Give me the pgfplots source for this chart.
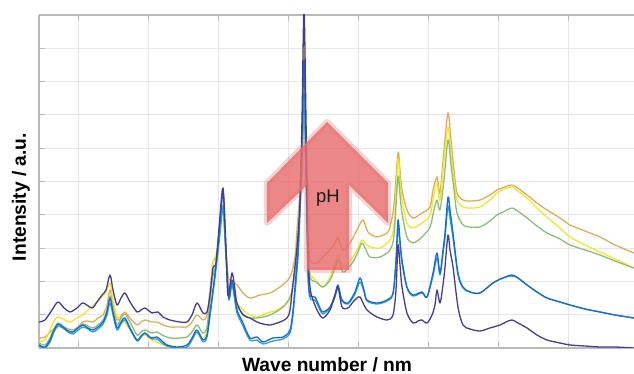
\documentclass[border=0pt]{standalone}
\usepackage{fontspec}
\setmainfont{Liberation Sans}
\usepackage{pgfplots}
\pgfplotsset{compat=1.18}
\definecolor{cPurple}{RGB}{70,62,140}
\definecolor{cBlue}{RGB}{30,105,205}
\definecolor{cCyan}{RGB}{35,165,215}
\definecolor{cGreen}{RGB}{140,190,120}
\definecolor{cYellow}{RGB}{240,232,40}
\definecolor{cOrange}{RGB}{225,172,90}
\definecolor{cArrow}{RGB}{232,108,108}
\definecolor{cAxis}{RGB}{185,185,185}
\definecolor{cGrid}{RGB}{232,232,232}
\begin{document}
\begin{tikzpicture}
\begin{axis}[
 at={(0,0)}, anchor=south west,
 scale only axis, width=297.5pt, height=166.5pt,
 xmin=39, xmax=634, ymin=0, ymax=333,
 axis x line*=box, axis y line*=left,
 xtick={79,149,219,289,359,429,499,569},
 ytick={33.3,66.6,99.9,133.2,166.5,199.8,233.1,266.4,299.7},
 xticklabels={}, yticklabels={},
 grid=major, major grid style={cGrid, line width=0.5pt},
 axis line style={cAxis, line width=0.6pt},
 major tick style={cAxis, line width=0.5pt},
 major tick length=3pt,
 every axis plot/.append style={line width=0.65pt, line join=round, smooth, tension=0.5},
]
\addplot[cOrange] coordinates {(39,10)(45,11)(50,16)(54,19)(58,22)(63,20)(68,17)(73,16)(78,21)(83,26)(88,27)(93,26)(98,30)(103,33)(107,43)(110,58)(113,43)(117,28)(121,32)(125,36)(130,30)(137,23)(141,26)(145,28)(152,26)(157,26)(163,23)(170,21)(180,21)(187,21)(192,26)(197,33)(203,28)(207,33)(210,58)(213,86)(216,90)(219,113)(223,143)(225,113)(228,73)(230,68)(237,63)(243,55)(250,50)(260,53)(270,55)(280,61)(290,71)(295,91)(297,118)(300,158)(302,208)(304,268)(306,198)(308,118)(310,88)(317,85)(323,91)(330,98)(335,105)(338,110)(343,98)(350,105)(357,118)(363,128)(368,116)(377,111)(387,115)(390,121)(394,143)(398,195)(400,178)(402,158)(407,138)(413,130)(422,135)(430,141)(433,158)(437,171)(440,155)(444,198)(448,235)(451,208)(454,178)(457,155)(463,148)(470,147)(480,148)(490,153)(497,158)(505,161)(512,163)(519,159)(527,153)(537,145)(547,138)(560,130)(570,123)(585,117)(600,111)(615,103)(634,95)};
\addplot[cYellow] coordinates {(39,6)(45,8)(50,18)(54,27)(58,31)(63,29)(70,26)(77,30)(83,33)(90,40)(97,46)(102,51)(106,56)(110,65)(113,48)(117,31)(121,30)(125,26)(130,18)(137,8)(141,11)(145,13)(152,8)(163,3)(170,1)(177,0)(187,1)(192,8)(197,16)(203,10)(207,18)(210,48)(213,85)(216,93)(219,113)(223,143)(225,113)(228,68)(232,63)(237,45)(247,35)(257,31)(267,35)(277,38)(287,45)(292,55)(297,95)(300,148)(302,208)(304,318)(306,198)(308,98)(310,75)(316,68)(323,61)(330,71)(335,86)(338,93)(343,81)(348,85)(353,91)(358,100)(362,108)(366,104)(370,101)(380,100)(390,108)(394,123)(398,188)(400,168)(402,148)(407,125)(413,120)(422,125)(430,133)(434,153)(437,165)(440,148)(444,188)(448,221)(451,193)(454,168)(457,148)(463,141)(470,140)(480,141)(490,148)(497,155)(505,159)(512,161)(519,156)(527,150)(537,140)(547,131)(560,120)(570,111)(585,103)(600,96)(615,89)(634,80)};
\addplot[cGreen] coordinates {(39,5)(45,3)(50,10)(54,19)(58,25)(63,22)(68,19)(73,18)(78,21)(83,24)(88,22)(93,20)(98,23)(103,28)(107,38)(110,52)(113,38)(117,23)(121,30)(125,34)(130,26)(137,13)(141,16)(145,18)(152,15)(157,16)(162,13)(170,10)(180,10)(187,11)(192,16)(197,23)(203,15)(207,21)(210,48)(213,73)(216,83)(219,108)(223,143)(225,108)(228,63)(232,65)(235,48)(237,41)(247,31)(257,30)(270,33)(283,41)(290,51)(294,68)(297,91)(300,138)(302,178)(304,238)(306,168)(308,98)(310,71)(316,66)(323,61)(330,68)(335,80)(338,88)(343,76)(348,80)(353,86)(358,96)(362,105)(366,98)(370,91)(380,91)(390,98)(394,113)(398,171)(400,153)(402,135)(407,111)(413,105)(422,111)(430,121)(434,138)(437,148)(440,138)(444,168)(448,208)(451,183)(454,158)(457,135)(463,123)(470,121)(480,121)(490,127)(497,133)(505,137)(512,140)(519,136)(527,130)(537,122)(547,115)(560,109)(570,103)(585,98)(600,93)(615,87)(634,80)};
\addplot[cCyan] coordinates {(39,2)(45,0)(50,6)(54,16)(58,22)(63,20)(68,16)(73,14)(78,18)(83,21)(88,19)(93,16)(98,19)(103,24)(107,33)(110,45)(113,33)(117,18)(121,24)(125,28)(130,19)(137,7)(141,11)(145,15)(149,12)(152,9)(157,9)(162,5)(167,2)(177,0)(187,1)(192,8)(197,16)(203,6)(207,11)(210,32)(213,55)(215,70)(219,105)(223,140)(225,110)(227,75)(229,48)(232,63)(235,47)(237,35)(243,22)(250,8)(257,8)(263,4)(273,7)(283,9)(290,15)(293,33)(295,55)(298,90)(300,135)(302,190)(304,255)(306,180)(308,75)(310,50)(315,48)(320,38)(323,34)(330,40)(335,51)(338,60)(342,47)(348,44)(355,54)(360,66)(364,56)(367,47)(377,44)(387,47)(393,54)(396,85)(398,120)(400,104)(402,85)(407,60)(413,52)(422,55)(427,51)(433,72)(437,90)(440,73)(443,94)(445,110)(448,142)(450,130)(453,110)(458,73)(463,60)(470,56)(480,55)(493,65)(503,70)(512,72)(518,70)(527,63)(537,56)(547,50)(560,46)(570,43)(585,39)(600,36)(615,33)(634,30)};
\addplot[cBlue] coordinates {(39,3)(45,1)(50,8)(54,18)(58,24)(63,21)(68,17)(73,16)(78,20)(83,23)(88,20)(93,18)(98,21)(103,26)(107,36)(110,50)(113,36)(117,20)(121,26)(125,30)(130,20)(137,8)(141,12)(145,15)(149,11)(152,10)(157,11)(162,7)(167,3)(177,1)(187,3)(192,10)(197,18)(203,8)(207,13)(210,35)(213,58)(215,75)(219,113)(223,155)(225,118)(227,78)(229,50)(232,68)(235,50)(237,38)(243,25)(250,10)(257,11)(263,6)(273,10)(283,11)(290,18)(293,38)(295,61)(298,98)(300,148)(302,208)(304,288)(306,198)(308,78)(310,53)(315,51)(320,40)(323,36)(330,41)(335,53)(338,63)(342,48)(348,45)(355,56)(360,70)(364,58)(367,48)(377,45)(387,48)(393,55)(396,88)(398,128)(400,108)(402,88)(407,61)(413,53)(422,56)(427,51)(433,75)(437,95)(440,75)(443,98)(445,115)(448,151)(450,138)(453,115)(458,75)(463,61)(470,56)(480,55)(493,65)(503,70)(512,73)(518,70)(527,63)(537,56)(547,50)(560,46)(570,43)(585,39)(600,36)(615,33)(634,30)};
\addplot[cPurple] coordinates {(39,26)(45,28)(52,38)(58,46)(64,40)(70,36)(77,40)(83,45)(92,40)(97,46)(102,53)(106,58)(110,73)(113,58)(117,43)(121,50)(125,55)(130,46)(137,36)(141,38)(145,40)(149,37)(152,35)(158,36)(163,31)(170,28)(180,26)(187,26)(192,33)(197,45)(203,35)(207,36)(210,53)(213,80)(216,85)(219,120)(223,160)(226,100)(228,52)(232,75)(235,58)(237,45)(243,33)(250,30)(257,26)(263,24)(270,23)(280,26)(287,30)(290,38)(293,65)(297,101)(300,145)(302,228)(304,340)(306,228)(308,98)(310,61)(313,48)(318,36)(323,30)(330,38)(335,53)(338,61)(342,41)(348,40)(353,46)(357,50)(360,51)(364,43)(367,38)(372,34)(377,31)(387,28)(393,33)(396,58)(398,103)(400,83)(402,61)(407,35)(413,25)(418,27)(422,28)(427,25)(432,33)(435,43)(437,58)(440,45)(443,63)(445,81)(448,113)(450,98)(453,81)(458,41)(463,23)(470,19)(480,17)(490,20)(500,23)(506,26)(512,28)(518,25)(527,20)(537,13)(547,8)(560,5)(570,3)(585,2)(600,1)(615,1)(634,0)};
\draw[cArrow, opacity=0.3, line width=3pt, line join=round] (axis cs:307,78) -- (axis cs:307,163) -- (axis cs:267,125) -- (axis cs:267,165) -- (axis cs:327,226) -- (axis cs:388,165) -- (axis cs:388,125) -- (axis cs:349,163) -- (axis cs:349,78) -- cycle;
\fill[cArrow, opacity=0.82] (axis cs:307,78) -- (axis cs:307,163) -- (axis cs:267,125) -- (axis cs:267,165) -- (axis cs:327,226) -- (axis cs:388,165) -- (axis cs:388,125) -- (axis cs:349,163) -- (axis cs:349,78) -- cycle;
\node[font=\fontsize{9.2}{10}\selectfont, text=black!90] at (axis cs:328,150) {pH};
\end{axis}
\node[font=\fontsize{9.6}{11}\selectfont\bfseries, anchor=base] at (144pt,-12pt) {Wave number / nm};
\node[font=\fontsize{9.6}{11}\selectfont\bfseries, anchor=base, rotate=90] at (-6.5pt,75.5pt) {Intensity / a.u.};
\pgfresetboundingbox
\useasboundingbox (-19.5pt,-13pt) rectangle (297.5pt,174pt);
\end{tikzpicture}
\end{document}
